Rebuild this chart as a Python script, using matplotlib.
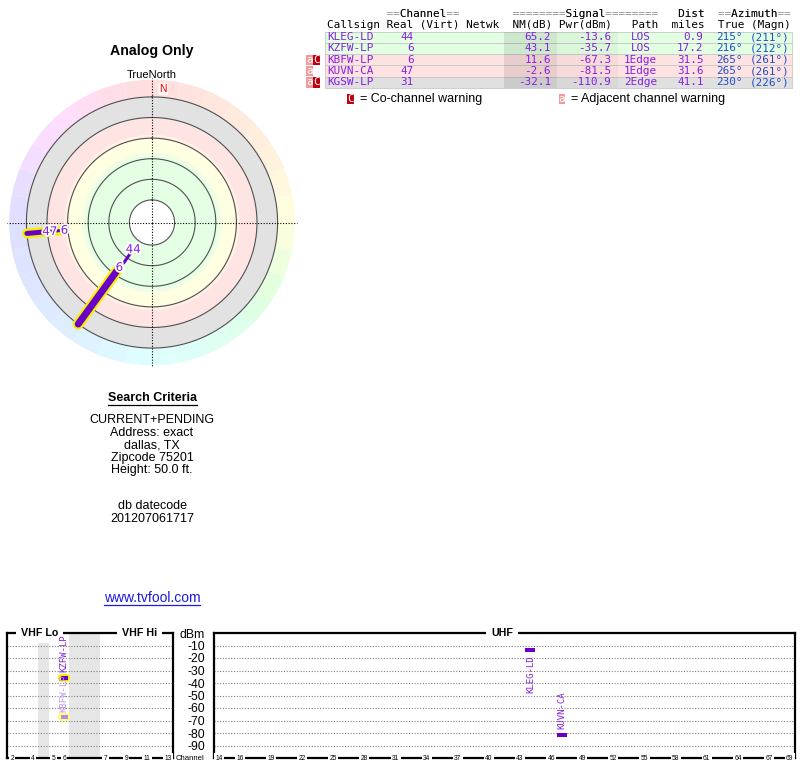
import colorsys
import numpy as np
import matplotlib.pyplot as plt
import matplotlib.patheffects as pe
from matplotlib.lines import Line2D

plt.rcParams['font.family'] = ['Liberation Sans', 'DejaVu Sans']

# station table
callsign = ['KLEG-LD', 'KZFW-LP', 'KBFW-LP', 'KUVN-CA', 'KGSW-LP']
real_ch = [44, 6, 6, 47, 31]
nm_db = [65.2, 43.1, 11.6, -2.6, -32.1]
pwr_dbm = [-13.6, -35.7, -67.3, -81.5, -110.9]
path = ['LOS', 'LOS', '1Edge', '1Edge', '2Edge']
dist_mi = [0.9, 17.2, 31.5, 31.6, 41.1]
az_true = [215, 216, 265, 265, 230]
az_magn = [211, 212, 261, 261, 226]
warn = ['', '', 'aC', 'a', 'aC']
row_band = ['green', 'green', 'red', 'red', 'gray']
analog = [False, True, True, False, False]

# radar plot: NM where each station's line ends (None = not drawn)
radar_tail = [54, -20, -20, -20, None]
ring_nm = [80, 60, 40, 20, 0, -20]

# spectrum axes
dbm_ticks = [0, -10, -20, -30, -40, -50, -60, -70, -80, -90]
dbm_labels = ['dBm', '-10', '-20', '-30', '-40', '-50', '-60', '-70', '-80', '-90']
vhf_slot = {2: 0, 3: 1, 4: 2, 5: 4, 6: 5, 7: 9, 8: 10, 9: 11, 10: 12, 11: 13, 12: 14, 13: 15}
vhf_ticks = [2, 4, 5, 6, 7, 9, 11, 13]
uhf_ticks = [14, 16, 19, 22, 25, 28, 31, 34, 37, 40, 43, 46, 49, 52, 55, 58, 61, 64, 67, 69]

criteria = ['CURRENT+PENDING', 'Address: exact', 'dallas, TX', 'Zipcode 75201', 'Height: 50.0 ft.']
datecode = ['db datecode', '201207061717']

purple = '#8420e0'
line_purple = '#6a00c8'
blue = '#1c50c8'
MONO = 'DejaVu Sans Mono'

W, H = 800, 768


def fx(px):
    return px / W


def fy(py):
    return 1 - py / H


fig = plt.figure(figsize=(W / 100, H / 100), dpi=100)

# ---------------- radar -----------------
NM0, NM1 = 101.94, -36.9   # centre / outer edge
rad = fig.add_axes([fx(9), fy(365.5), 286 / W, 286 / H], projection='polar')
rad.set_theta_zero_location('N')
rad.set_theta_direction(-1)
rad.set_ylim(NM0, NM1)
rad.axis('off')

seg = np.arange(0, 360, 11.25)
hue = np.interp(seg + 5.6, [0, 45, 90, 135, 180, 225, 270, 315, 360],
                [0, 25, 60, 140, 180, 215, 240, 300, 360]) / 360
ring_cols = [colorsys.hsv_to_rgb(h, 0.13, 1) for h in hue]
rad.bar(np.deg2rad(seg), NM1 - (-20), width=np.deg2rad(11.25), bottom=-20,
        align='edge', color=ring_cols, linewidth=0)

bands = [(80, 37, '#e4ffe4'), (37, 34, '#f0ffe2'), (34, 21, '#ffffe2'), (21, 17, '#fff2e2'),
         (17, 0, '#ffe4e4'), (0, -20, '#e2e2e2')]
for top, bot, c in bands:
    rad.bar(0, bot - top, width=2 * np.pi, bottom=top, color=c, linewidth=0)

th = np.linspace(0, 2 * np.pi, 400)
for r in ring_nm:
    rad.plot(th, np.full_like(th, r), color='#505050', lw=0.8)

for a in [0, 90, 180, 270]:
    rad.plot([np.deg2rad(a)] * 2, [NM0, -38.6], color='black', lw=0.8,
             ls=(0, (1, 1.5)), clip_on=False)

rad.annotate('N', (0, -27.7), xytext=(8, 0), textcoords='offset points', color='red',
             fontsize=7.5, ha='center', va='center',
             bbox=dict(boxstyle='square,pad=0.1', fc='white', ec='none', alpha=0.7))

radar_lw = [2.2, 5, 2.2, 3.6, 0]
radar_halo = [0, 8, 7, 0, 0]
for i in range(len(callsign)):
    if radar_tail[i] is None:
        continue
    t = np.deg2rad(az_true[i])
    if analog[i]:
        rad.plot([t, t], [nm_db[i], radar_tail[i]], color='#f4f000', lw=radar_halo[i],
                 solid_capstyle='round')
    rad.plot([t, t], [nm_db[i], radar_tail[i]], color=line_purple, lw=radar_lw[i],
             solid_capstyle='round')
for i in range(len(callsign)):
    if radar_tail[i] is None:
        continue
    t = np.deg2rad(az_true[i])
    rad.text(t, nm_db[i] + 5, str(real_ch[i]), color=purple, fontsize=8.5, family='DejaVu Sans',
             ha='center', va='center',
             path_effects=[pe.withStroke(linewidth=2.5, foreground='white')])

fig.text(fx(152), fy(51), 'Analog Only', fontsize=10.2, fontweight='bold', ha='center', va='center')
fig.text(fx(152), fy(75), 'TrueNorth', fontsize=8, ha='center', va='center')

# ---------------- search criteria -----------------
sc = fig.text(fx(152), fy(398), 'Search Criteria', fontsize=9, fontweight='bold',
              ha='center', va='center')
for k, line in enumerate(criteria):
    fig.text(fx(152), fy(420 + k * 12.6), line, fontsize=9, ha='center', va='center')
for k, line in enumerate(datecode):
    fig.text(fx(152), fy(506 + k * 12.6), line, fontsize=9, ha='center', va='center')
www = fig.text(fx(152), fy(598), 'www.tvfool.com', fontsize=10, color='#1a1ae0',
               ha='center', va='center')

renderer = fig.canvas.get_renderer()
for txt, yy, col in [(sc, 405, 'black'), (www, 605, '#1a1ae0')]:
    bb = txt.get_window_extent(renderer)
    fig.add_artist(Line2D([bb.x0 / W, bb.x1 / W], [fy(yy), fy(yy)], color=col, lw=0.9))

# ---------------- station table -----------------
tab = fig.add_axes([fx(298), fy(112), (800 - 298) / W, 112 / H])
tab.set_xlim(298, 800)
tab.set_ylim(6.62, -3.29)
tab.axis('off')
band_col = {'green': '#e2ffe2', 'red': '#ffe2e2', 'gray': '#e0e0e0'}
rows = np.arange(len(callsign))
tab.barh(rows, 467, left=325, height=1, color=[band_col[b] for b in row_band],
         edgecolor='#c8c8c8', linewidth=0.6)
tab.barh(rows, 53, left=504, height=1, color='black', alpha=0.09, linewidth=0)
tab.barh(rows, 61, left=557, height=1, color='black', alpha=0.03, linewidth=0)

mono = dict(family=MONO, fontsize=7.9, va='center')
h1 = ' ' * 9 + '==Channel==' + ' ' * 8 + '========Signal========' + ' ' * 3 + 'Dist' + '  ' + '==Azimuth=='
tab.text(327, -2.04, h1, color='#909090', ha='left', **mono)
tab.text(327, -2.04, h1.replace('=', ' '), color='black', ha='left', **mono)
h2 = 'Callsign Real (Virt) Netwk  NM(dB) Pwr(dBm)   Path  miles  True (Magn)'
tab.text(327, -1.08, h2, color='black', ha='left', **mono)

warn_col = {'a': '#f29a9a', 'C': '#c00010'}
for i in rows:
    tab.text(327, i, callsign[i], color=purple, ha='left', **mono)
    tab.text(413.5, i, str(real_ch[i]), color=purple, ha='right', **mono)
    tab.text(551, i, f'{nm_db[i]:.1f}', color=purple, ha='right', **mono)
    tab.text(611, i, f'{pwr_dbm[i]:.1f}', color=purple, ha='right', **mono)
    tab.text(640.5, i, path[i], color=purple, ha='center', **mono)
    tab.text(703.5, i, f'{dist_mi[i]:.1f}', color=purple, ha='right', **mono)
    tab.text(716.5, i, f'{az_true[i]}°', color=blue, ha='left', **mono)
    tab.text(749.5, i, f'({az_magn[i]}°)', color=blue, ha='left', **mono)
    for k, w in enumerate(warn[i]):
        tab.barh(i, 6.8, left=306 + k * 7, height=0.92, color=warn_col[w], linewidth=0)
        tab.text(306 + k * 7 + 3.4, i, w, color='white', ha='center', **mono)

for x0, w, label in [(347, 'C', '= Co-channel warning'), (558.5, 'a', '= Adjacent channel warning')]:
    tab.barh(5.47, 6.8, left=x0, height=0.95, color=warn_col[w], linewidth=0)
    tab.text(x0 + 3.4, 5.47, w, color='white', ha='center', **mono)
    tab.text(x0 + 12.5, 5.47, label, fontsize=9, ha='left', va='center')

# ---------------- spectrum -----------------


def spectrum_axes(left, right):
    ax = fig.add_axes([fx(left), fy(758), (right - left) / W, 125 / H])
    ax.set_ylim(-100, 0)
    ax.set_yticks(dbm_ticks)
    ax.set_xticks([])
    ax.tick_params(length=0)
    ax.grid(axis='y', linestyle=(0, (1, 1.5)), color='#808080', lw=0.8)
    for s in ax.spines.values():
        s.set_linewidth(1.6)
    return ax


ax_v = spectrum_axes(7, 173)
ax_v.set_xlim(0, 16)
ax_v.set_yticklabels([])
ax_v.axvspan(3, 4, color='#e6e6e6', lw=0)
ax_v.axvspan(6, 9, color='#e6e6e6', lw=0)

ax_u = spectrum_axes(214, 795)
ax_u.set_xlim(13.5, 69.5)
ax_u.set_yticklabels(dbm_labels, fontsize=8.8)
ax_u.tick_params(axis='y', pad=6.5)

title_kw = dict(fontsize=7.7, fontweight='bold', ha='center', va='center', clip_on=False,
                bbox=dict(boxstyle='square,pad=0.45', fc='white', ec='none'))
ax_v.text(3.15, 0, 'VHF Lo', **title_kw)
ax_v.text(12.8, 0, 'VHF Hi', **title_kw)
ax_u.text(41.26, 0, 'UHF', **title_kw)

tick_kw = dict(fontsize=4.8, ha='center', va='center', clip_on=False,
               bbox=dict(boxstyle='square,pad=0.2', fc='white', ec='none'))
for ch in vhf_ticks:
    ax_v.text(vhf_slot[ch] + 0.5, -100, str(ch), **tick_kw)
for ch in uhf_ticks:
    ax_u.text(ch, -100, str(ch), **tick_kw)
fig.text(fx(189.5), fy(758), 'Channel', fontsize=5.6, ha='center', va='center')

for i in range(len(callsign)):
    if pwr_dbm[i] < -100:
        continue
    if real_ch[i] <= 13:
        ax, x = ax_v, vhf_slot[real_ch[i]] + 0.5
    else:
        ax, x = ax_u, real_ch[i]
    faded = 'C' in warn[i]
    col = '#b888ee' if faded else line_purple
    tcol = '#c098f0' if faded else purple
    if analog[i]:
        ax.plot([x - 0.2, x + 0.2], [pwr_dbm[i]] * 2, color='#ffff70' if faded else '#f4f000',
                lw=6, solid_capstyle='round', zorder=3)
        half = 0.34
    else:
        half = 0.48
    ax.plot([x - half, x + half], [pwr_dbm[i]] * 2, color=col, lw=2.9, solid_capstyle='butt',
            zorder=4)
    below = pwr_dbm[i] > -25
    ax.annotate(callsign[i], (x, pwr_dbm[i]), xytext=(0, -4 if below else 4),
                textcoords='offset points', rotation=90, ha='center',
                va='top' if below else 'bottom', family=MONO, fontsize=6.5, color=tcol,
                zorder=5)

fig.savefig('out.png', dpi=100)
